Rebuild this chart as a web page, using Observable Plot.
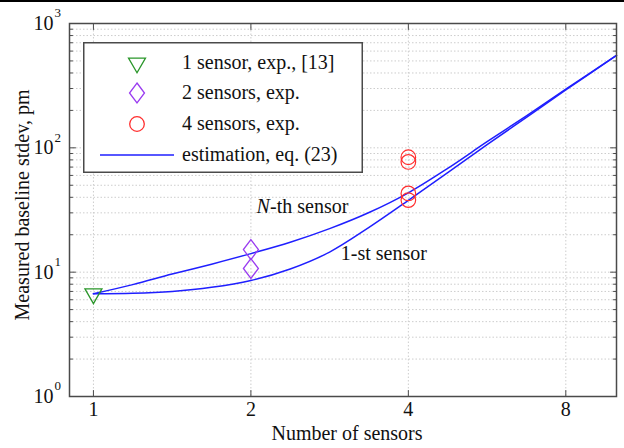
<!DOCTYPE html>
<html><head><meta charset="utf-8">
<script src="https://cdn.jsdelivr.net/npm/d3@7"></script>
<script src="https://cdn.jsdelivr.net/npm/@observablehq/plot@0.6"></script>
<style>
body{margin:0;background:#fff;}
#wrap{position:relative;width:624px;height:448px;font-family:'Liberation Serif','Times New Roman','DejaVu Serif',serif;}
#wrap svg text{font-family:'Liberation Serif','Times New Roman','DejaVu Serif',serif;}
#topline{position:absolute;left:0;top:0;width:624px;height:2px;background:#000;}
#legend{position:absolute;left:83px;top:42px;}
</style></head><body><div id="wrap"><div id="topline"></div></div>
<script>
// ---- data ----
const xTicks = [1, 2, 4, 8];
const yTicks = [1, 10, 100, 1000];
const yExp = ["0", "1", "2", "3"];
const curveN = [1, 1.189, 1.414, 1.682, 2, 2.378, 2.828, 3.364, 4, 4.757, 5.657, 6.727, 8, 10];
const nthSensor = [6.7, 7.94, 9.66, 11.6, 14.1, 17.4, 22.4, 30.2, 43.5, 68.4, 112, 181, 296, 553];
const firstSensor = [6.7, 6.76, 7.0, 7.55, 8.57, 10.6, 14.5, 22.9, 37.8, 63.1, 106, 176, 292, 553];
const exp1N = [1];
const exp1V = [6.7];
const exp2N = [2, 2];
const exp2V = [15.2, 10.7];
const exp4N = [4, 4, 4, 4];
const exp4V = [84, 77, 43, 38];
const legendLabels = ["1 sensor, exp., [13]", "2 sensors, exp.", "4 sensors, exp.", "estimation, eq. (23)"];
const curveLabels = [
  {n: 2.05, v: 33.8, italic: "N", rest: "-th sensor"},
  {n: 2.97, v: 14.1, italic: "", rest: "1-st sensor"}
];
const xLabel = "Number of sensors";
const yLabel = "Measured baseline stdev, pm";

// ---- styles ----
const cGreen = "#2a962a", cPurple = "#9a3cf0", cRed = "#ff2e2e", cBlue = "#1f1fff";
const gridC = "#cdcdcd", frameC = "#4a4a4a";
const font = "'Liberation Serif', 'Times New Roman', 'DejaVu Serif', serif";

const curves = [
  ...curveN.map((n, i) => ({n, v: nthSensor[i], s: "N"})),
  ...curveN.map((n, i) => ({n, v: firstSensor[i], s: "1"}))
];
const pts = (ns, vs) => ns.map((n, i) => ({n, v: vs[i]}));
const yMinor = d3.range(0, 3).flatMap(e => d3.range(2, 10).map(m => m * 10 ** e));
const tickShape = {draw(ctx, l) { ctx.moveTo(0, 0); ctx.lineTo(0, -l); }};
const tk = (data, ch, anchor, rot, len) => Plot.vector(data, {[ch]: d => d, frameAnchor: anchor, rotate: rot, length: len, anchor: "start", shape: tickShape, stroke: frameC, strokeWidth: 1});
// wide diamond (width/height = 0.75), like the reference markers
const wideDiamond = {draw(ctx, size) { const h = Math.sqrt(size / 1.5), w = 0.75 * h; ctx.moveTo(0, -h); ctx.lineTo(w, 0); ctx.lineTo(0, h); ctx.lineTo(-w, 0); ctx.closePath(); }};

const chart = Plot.plot({
  width: 624, height: 448,
  marginLeft: 69, marginRight: 8, marginTop: 23, marginBottom: 52,
  style: {fontFamily: font, fontSize: "20px", background: "transparent", overflow: "visible"},
  x: {type: "log", base: 2, domain: [0.9, 10], axis: null},
  y: {type: "log", domain: [1, 1000], axis: null},
  marks: [
    Plot.ruleY(yMinor.concat([10, 100]), {stroke: gridC, strokeDasharray: "1.5,2", strokeWidth: 1}),
    Plot.ruleX(xTicks, {stroke: gridC, strokeDasharray: "1.5,2", strokeWidth: 1}),
    Plot.line(curves, {x: "n", y: "v", z: "s", stroke: cBlue, strokeWidth: 1.5, curve: "catmull-rom"}),
    Plot.dot(pts(exp1N, exp1V), {x: "n", y: "v", symbol: "triangle", rotate: 180, r: 6.3, stroke: cGreen, strokeWidth: 1.3, fill: "none"}),
    Plot.dot(pts(exp2N, exp2V), {x: "n", y: "v", symbol: wideDiamond, r: 6.9, stroke: cPurple, strokeWidth: 1.3, fill: "none"}),
    Plot.dot(pts(exp4N, exp4V), {x: "n", y: "v", symbol: "circle", r: 7.3, stroke: cRed, strokeWidth: 1.2, fill: "none"}),
    Plot.frame({stroke: frameC, strokeWidth: 1.5}),
    tk(yTicks, "y", "left", 90, 6), tk(yMinor, "y", "left", 90, 3),
    tk(yTicks, "y", "right", -90, 6), tk(yMinor, "y", "right", -90, 3),
    tk(xTicks, "x", "bottom", 0, 6), tk(xTicks, "x", "top", 180, 6),
    Plot.text(yTicks, {y: d => d, frameAnchor: "left", text: () => "10", textAnchor: "end", dx: -16, fontSize: 20, fill: "#111"}),
    Plot.text(yTicks, {y: d => d, frameAnchor: "left", text: (d, i) => yExp[i], textAnchor: "start", dx: -15, dy: -10.5, fontSize: 13, fill: "#111"}),
    Plot.text(xTicks, {x: d => d, frameAnchor: "bottom", text: d => String(d), dy: 19.5, fontSize: 20, fill: "#111"}),
    Plot.text([xLabel], {frameAnchor: "bottom", text: d => d, textAnchor: "middle", dx: 4, dy: 43, fontSize: 20, fill: "#111"}),
    Plot.text([yLabel], {frameAnchor: "left", text: d => d, textAnchor: "middle", rotate: -90, dx: -46.5, dy: -5, fontSize: 20, fill: "#111"}),
    Plot.text(curveLabels, {x: "n", y: "v", text: "italic", textAnchor: "start", fontStyle: "italic", fontSize: 20, fill: "#111"}),
    Plot.text(curveLabels, {x: "n", y: "v", text: "rest", textAnchor: "start", dx: 0, fontSize: 20, fill: "#111", filter: d => !d.italic}),
    Plot.text(curveLabels, {x: "n", y: "v", text: "rest", textAnchor: "start", dx: 13.5, fontSize: 20, fill: "#111", filter: d => d.italic})
  ]
});
const wrap = document.getElementById("wrap");
wrap.appendChild(chart);

// ---- legend (overlay inside the plot area) ----
const W = 280, H = 131;
const lg = d3.select(wrap).append("svg").attr("id", "legend").attr("width", W).attr("height", H);
lg.append("rect").attr("x", 0.75).attr("y", 0.75).attr("width", W - 1.5).attr("height", H - 1.5)
  .attr("fill", "#fff").attr("stroke", frameC).attr("stroke-width", 1.5);
const rowY = [21, 51, 82, 113];
const sym = [
  {t: d3.symbolTriangle, size: Math.PI * 6.3 * 6.3, c: cGreen, rot: 180},
  {t: wideDiamond, size: Math.PI * 6.9 * 6.9, c: cPurple, rot: 0},
  {t: d3.symbolCircle, size: Math.PI * 7.3 * 7.3, c: cRed, rot: 0}
];
sym.forEach((s, i) => {
  lg.append("path").attr("d", d3.symbol(s.t, s.size)())
    .attr("transform", `translate(54,${rowY[i]}) rotate(${s.rot})`)
    .attr("fill", "none").attr("stroke", s.c).attr("stroke-width", 1.3);
});
lg.append("line").attr("x1", 17).attr("x2", 91).attr("y1", rowY[3]).attr("y2", rowY[3])
  .attr("stroke", cBlue).attr("stroke-width", 1.5);
legendLabels.forEach((t, i) => {
  lg.append("text").attr("x", 99).attr("y", rowY[i]).attr("dy", "0.32em")
    .attr("font-size", 20).attr("fill", "#111").text(t);
});
</script></body></html>
